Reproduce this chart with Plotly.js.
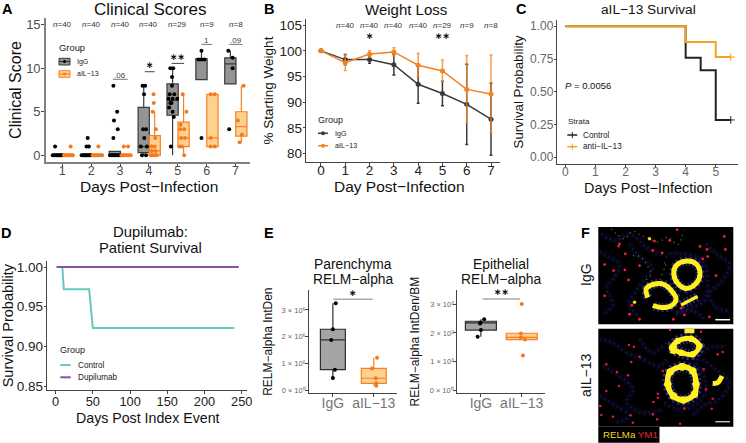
<!DOCTYPE html>
<html><head><meta charset="utf-8">
<script src="https://cdn.plot.ly/plotly-3.0.0.min.js"></script>
<style>html,body{margin:0;padding:0;background:#fff}#c{width:746px;height:443px}</style></head>
<body><div id="c"></div>
<script>
// Panel A: clinical scores
const days = [1,2,3,4,5,6,7];
const nA = ["40","40","40","40","29","9","8"];
const boxIgG_q1 = [0,0,0,0.3,4.6,8.7,8.2];
const boxIgG_med = [0,0,0,1,6.3,11,10.5];
const boxIgG_q3 = [0,0,0.45,5.5,8.2,11.1,11.2];
const boxIgG_lo = [0,0,0,0,0,8.7,8.2];
const boxIgG_hi = [0,0,0,8,10,12,12];
const boxAil_q1 = [0,0,0,0,1,1,2.2];
const boxAil_med = [0,0,0,0.5,2,2,3.3];
const boxAil_q3 = [0,0,0,2.25,3.8,7,5];
const boxAil_lo = [0,0,0,0,0,1,1.5];
const boxAil_hi = [0,0,0,5,7,7,8];
const ptsIgG_x = [0.75,0.67,0.72,0.76,0.8,0.84,0.88,0.92,0.96,1.0, 1.88,1.84,1.92,1.67,1.72,1.76,1.8,1.84,1.88,1.92,1.96,2.0, 2.77,2.9,2.79,2.92,2.77,2.65,2.7,2.75,2.8,2.85,2.9,2.95,3.0, 3.78,3.87,3.83,3.8,3.9,3.84,3.72,3.93,3.76,3.9, 4.74,4.84,4.8,4.8,4.72,4.88,4.68,4.82,4.98,4.74,4.78,4.7,4.82,4.86,4.76, 5.82,5.72,5.82,5.92,5.82, 6.75,6.9,6.9,6.78];
const ptsIgG_y = [1,0,0,0,0,0,0,0,0,0, 2,1,1,0,0,0,0,0,0,0,0,0, 8,5,4,3,2,0,0,0,0,0,0,0,0, 8,8,7,3,3,2,1,1,0,0, 10,10,9,8,7,7,6.5,6.5,6.5,6,6,5.5,5,4.4,1, 12,11,11,11,2, 12,11.2,10,3];
const ptsAil_x = [1.29,1.06,1.1,1.14,1.18,1.22,1.26,1.3,1.34,1.37, 2.25,2.05,2.1,2.15,2.2,2.25,2.3,2.35,2.38, 3.13,3.28,3.05,3.1,3.15,3.2,3.25,3.3,3.37, 4.16,4.17,4.13,4.24,4.22,4.09,4.2,4.07,4.14,4.21,4.27,4.1,4.23, 5.17,5.3,5.1,5.08,5.22,5.12,5.25,5.06,5.14,5.22, 6.14,6.28,6.14,6.14,6.28, 7.28,7.08,7.22,7.14];
const ptsAil_y = [1,0,0,0,0,0,0,0,0,0, 1,0,0,0,0,0,0,0,0, 1,1,0,0,0,0,0,0,0, 7,6,5,3,2,1,1,0,0,0,0,0.5,0.5, 7,5,3.5,3,3,2,2,1,1,0, 7,7,2,1,1, 8,4,2.4,1.5];
const sigA_text = [".06","\u2217","\u2217\u2217","1",".09"];
const sigA_x0 = [2.75,3.86,4.79,5.82,6.78];
const sigA_x1 = [3.27,4.2,5.22,6.19,7.24];
const sigA_y = [8.73,9.6,10.56,12.74,12.74];

// Panel B: weight loss
const dayB = [0,1,2,3,4,5,6,7];
const weightIgG = [100,98.3,98.3,97.3,93.5,91.7,89.6,86.7];
const weightAil = [100,97.7,99.4,99.8,97.2,96.1,92.5,91.6];
const errIgG = [0,1,0.7,2,3.7,2.4,7.8,7];
const errAil = [0,1.5,0.6,0.8,2.3,2.1,6.6,7.6];
const nB = ["40","40","40","40","29","9","8"];

// Panel C: survival
const survCtlX = [0,4,4.5,5,5.5];
const survCtlY = [1,0.76,0.665,0.285,0.285];
const survAntiX = [0,4,5,5.5];
const survAntiY = [1,0.88,0.765,0.765];

// Panel D: patient survival
const dCtlX = [1,9,11,45,50,240];
const dCtlY = [1,1,0.972,0.972,0.923,0.923];
const dDupX = [1.5,246];
const dDupY = [1,1];

// Panel E
const eCats = ["IgG","aIL\u221213"];
const e1Ticks = ["0 \u00d7 10\u2070","1 \u00d7 10\u2076","2 \u00d7 10\u2076","3 \u00d7 10\u2076"];
const e2Ticks = ["0 \u00d7 10\u2070","1 \u00d7 10\u00b3","2 \u00d7 10\u00b3","3 \u00d7 10\u00b3"];
const e1_q1 = [0.77,0.26], e1_med = [1.88,0.45], e1_q3 = [2.28,0.82], e1_lo = [0.46,0.17], e1_hi = [3.25,1.22];
const e1IgG_x = [1.07,1.0,0.96,1.05,1.0], e1IgG_y = [3.25,2.28,1.88,0.77,0.46];
const e1Ail_x = [2.08,1.96,2.05,2.06,2.06], e1Ail_y = [1.22,0.81,0.45,0.26,0.17];
const e2_q1 = [2.10,1.77], e2_med = [2.35,1.85], e2_q3 = [2.41,1.99], e2_lo = [1.87,1.77], e2_hi = [2.48,1.99];
const e2IgG_x = [1.08,0.99,0.98,1.0,0.92], e2IgG_y = [2.48,2.37,2.33,2.10,1.87];
const e2Ail_x = [2.0,1.98,1.98,2.08,2.03], e2Ail_y = [3.01,1.98,1.84,1.77,1.21];

// Panel F: microscopy, positions
const fRingAx = [268,300,312,300,270,245,233,240,268];
const fRingAy = [112,120,150,178,193,178,150,125,112];
const fArcBx = [155,150,175,205,230,240,225,195,170];
const fArcBy = [220,195,180,182,205,225,245,250,244];
const fArcCx = [255,275,305];
const fArcCy = [243,232,217];
const fDimYx = [45,60,85,110,135,160,185,215,245,262];
const fDimYy = [15,30,45,22,35,45,55,40,62,20];
const fDimY2x = [110,135,150,165,150,170,210,195];
const fDimY2y = [95,100,120,150,170,195,115,125];
const fBrightx = [160,115], fBrighty = [45,234];
const fRedTx = [67,87,25,86,97,25,100,107,170,198,221,243,335,320,333,385,388,312,255,265,232,340,360,52,130,175,130,70];
const fRedTy = [67,90,122,138,168,215,270,243,80,87,50,18,98,105,77,38,77,68,252,272,285,278,155,140,125,52,285,60];
const fBlueT = [[10,85,40,100,70,120,55,160,30,190,50,240,20,270],[100,60,130,100,170,130,150,160,120,200,100,240,130,280],[330,60,360,90,400,120,380,170,340,210,360,250,400,260],[240,270,290,260,330,290],[210,100,225,90,320,110,335,180,325,230,285,250,240,265],[15,30,60,50,100,30,150,70,200,95]];
const fRingBx = [258,290,300,295,262,232,215,222,258];
const fRingBy = [122,135,175,205,222,210,175,138,122];
const fRingCx = [228,245,285,310,290,255,228];
const fRingCy = [65,45,38,60,85,80,65];
const fBlobBx = [350,365,378];
const fBlobBy = [172,170,150];
const fTopBx = [265,295];
const fTopBy = [13,13];
const fBlobDx = [225,240];
const fBlobDy = [68,72];
const fRedBx = [98,113,130,105,30,62,95,200,323,380,365,222,315,172,185,185,350,347,15,50,103,110,170,183,252,68,30,12,330,265];
const fRedBy = [57,62,92,108,115,138,148,135,130,78,85,12,17,228,215,203,218,248,267,272,268,290,265,280,293,180,195,240,190,247];
const fBlueB = [[10,40,50,50,90,80,140,100,190,120,210,100],[20,120,70,150,110,190,90,230,140,260,200,250],[320,100,360,130,400,170,370,220,320,240,290,270],[130,40,170,80,210,50],[10,210,60,240,100,270,60,290],[205,230,250,250,300,235,330,190,320,140,300,110,330,70,390,60]];

const IGG="#3a3a3a", AIL="#f58220", BFILL="rgba(70,70,70,0.58)", AFILL="rgba(255,186,92,0.68)";
const W=746,H=443;
const PX=x=>x/W, PY=y=>1-y/H;
const FONT="Liberation Sans, Arial, sans-serif";
const STARFONT="DejaVu Sans, sans-serif";
const traces=[], shapes=[], annotations=[];

function boxTrace(xa,ya,x,q1,med,q3,lo,hi,fill,col,width,lw){
  return {type:'box',xaxis:xa,yaxis:ya,x:x,q1:q1,median:med,q3:q3,lowerfence:lo,upperfence:hi,
    width:width,whiskerwidth:0,boxpoints:false,fillcolor:fill,line:{color:col,width:lw||1.2},showlegend:false,hoverinfo:'skip'};
}
function pts(xa,ya,x,y,col,size){
  return {type:'scatter',mode:'markers',xaxis:xa,yaxis:ya,x:x,y:y,marker:{color:col,size:size||4},showlegend:false,hoverinfo:'skip',cliponaxis:false};
}
function txt(x,y,text,size,color,o){
  annotations.push(Object.assign({xref:'paper',yref:'paper',x:PX(x),y:PY(y),text:text,showarrow:false,
    font:{family:FONT,size:size,color:color||'#111'},xanchor:'center',yanchor:'middle',borderpad:0},o||{}));
}
function rectP(x0,y0,x1,y1,fill,lcol,lw,layer){
  shapes.push({type:'rect',xref:'paper',yref:'paper',x0:PX(x0),x1:PX(x1),y0:PY(y0),y1:PY(y1),fillcolor:fill,line:{color:lcol||fill,width:lw||0},layer:layer||'above'});
}
function lineP(x0,y0,x1,y1,col,w){
  shapes.push({type:'line',xref:'paper',yref:'paper',x0:PX(x0),x1:PX(x1),y0:PY(y0),y1:PY(y1),line:{color:col,width:w},layer:'above'});
}
const starFont={family:STARFONT,size:9,color:'#111',weight:700};

// A
traces.push(boxTrace('x','y',days.map(d=>d-0.18),boxIgG_q1,boxIgG_med,boxIgG_q3,boxIgG_lo,boxIgG_hi,BFILL,IGG,0.39));
traces.push(boxTrace('x','y',days.map(d=>d+0.2),boxAil_q1,boxAil_med,boxAil_q3,boxAil_lo,boxAil_hi,AFILL,AIL,0.39));
traces.push(pts('x','y',ptsIgG_x,ptsIgG_y,'#000',4));
traces.push(pts('x','y',ptsAil_x,ptsAil_y,'#f47a20',4));
days.forEach((d,i)=>annotations.push({xref:'x',yref:'y',x:d,y:15,text:'<i>n</i>='+nA[i],showarrow:false,font:{family:FONT,size:8,color:'#333'}}));
sigA_text.forEach((t,i)=>{
  const star=t.includes('\u2217');
  shapes.push({type:'line',xref:'x',yref:'y',x0:sigA_x0[i],x1:sigA_x1[i],y0:sigA_y[i],y1:sigA_y[i],line:{color:star?'#444':'#777',width:1}});
  annotations.push({xref:'x',yref:'y',x:(sigA_x0[i]+sigA_x1[i])/2,y:sigA_y[i]+(star?0.75:0.42),text:t,showarrow:false,
    font:star?starFont:{family:FONT,size:8,color:'#444'}});
});
txt(58.3,48,'Group',9.4,'#222',{xanchor:'left'});
rectP(59,58.3,70,65,BFILL,IGG,1); lineP(59,61.5,70,61.5,IGG,1.2);
rectP(59,70.7,70,77.3,AFILL,AIL,1); lineP(59,74,70,74,AIL,1.2);
txt(75.7,62,'IgG',7,'#222',{xanchor:'left'});
txt(75.7,74,'aIL\u221213',7,'#222',{xanchor:'left'});
shapes.push({type:'circle',xref:'paper',yref:'paper',x0:PX(63),x1:PX(66),y0:PY(60),y1:PY(63),fillcolor:'#000',line:{width:0}});
shapes.push({type:'circle',xref:'paper',yref:'paper',x0:PX(63),x1:PX(66),y0:PY(72.5),y1:PY(75.5),fillcolor:'#f47a20',line:{width:0}});

// B
traces.push({type:'scatter',mode:'lines+markers',xaxis:'x2',yaxis:'y2',x:dayB,y:weightIgG,line:{color:IGG,width:1.5},marker:{color:IGG,size:5},
  error_y:{type:'data',array:errIgG,color:IGG,thickness:1.5,width:1.5},showlegend:false,hoverinfo:'skip'});
traces.push({type:'scatter',mode:'lines+markers',xaxis:'x2',yaxis:'y2',x:dayB,y:weightAil,line:{color:AIL,width:1.5},marker:{color:AIL,size:5},
  error_y:{type:'data',array:errAil,color:'rgba(245,130,32,0.8)',thickness:1.5,width:1.5},showlegend:false,hoverinfo:'skip'});
days.forEach((d,i)=>annotations.push({xref:'x2',yref:'y2',x:d,y:105,text:'<i>n</i>='+nB[i],showarrow:false,font:{family:FONT,size:8,color:'#333'}}));
annotations.push({xref:'x2',yref:'y2',x:2,y:102.9,text:'\u2217',showarrow:false,font:starFont});
annotations.push({xref:'x2',yref:'y2',x:5,y:102.9,text:'\u2217\u2217',showarrow:false,font:starFont});
txt(316.7,120,'Group',9,'#222',{xanchor:'left'});
lineP(318,133.3,328,133.3,IGG,1.5); lineP(318,145.7,328,145.7,AIL,1.5);
shapes.push({type:'circle',xref:'paper',yref:'paper',x0:PX(321),x1:PX(325),y0:PY(131.3),y1:PY(135.3),fillcolor:IGG,line:{width:0}});
shapes.push({type:'circle',xref:'paper',yref:'paper',x0:PX(321),x1:PX(325),y0:PY(143.7),y1:PY(147.7),fillcolor:AIL,line:{width:0}});
txt(334.3,133.3,'IgG',7.2,'#222',{xanchor:'left'});
txt(334.3,145.7,'aIL\u221213',7.2,'#222',{xanchor:'left'});

// C
traces.push({type:'scatter',mode:'lines',xaxis:'x3',yaxis:'y3',x:survCtlX,y:survCtlY,line:{color:'#222',width:2,shape:'hv'},showlegend:false,hoverinfo:'skip'});
traces.push({type:'scatter',mode:'lines',xaxis:'x3',yaxis:'y3',x:survAntiX,y:survAntiY,line:{color:'#f7a223',width:2,shape:'hv'},showlegend:false,hoverinfo:'skip'});
traces.push({type:'scatter',mode:'markers',xaxis:'x3',yaxis:'y3',x:[survCtlX[4]],y:[survCtlY[4]],marker:{symbol:'cross-thin',size:5.5,line:{color:'#222',width:1}},showlegend:false,hoverinfo:'skip'});
traces.push({type:'scatter',mode:'markers',xaxis:'x3',yaxis:'y3',x:[survAntiX[3]],y:[survAntiY[3]],marker:{symbol:'cross-thin',size:5.5,line:{color:'#f7a223',width:1}},showlegend:false,hoverinfo:'skip'});
txt(564.3,85.7,'<i>P</i> = 0.0056',9.5,'#111',{xanchor:'left'});
txt(566.7,121.7,'Strata',8,'#222',{xanchor:'left'});
lineP(567.3,135,577.3,135,'#222',1.5); lineP(572.3,132,572.3,138,'#222',1);
lineP(567.3,146.7,577.3,146.7,'#f7a223',1.5); lineP(572.3,143.7,572.3,149.7,'#f7a223',1);
txt(582.3,135,'Control',8.2,'#222',{xanchor:'left'});
txt(582.3,146.7,'anti\u2212IL\u221213',8.2,'#222',{xanchor:'left'});

// D
const TEAL="#63cabd", PURP="#8a4fa6";
traces.push({type:'scatter',mode:'lines',xaxis:'x4',yaxis:'y4',x:dCtlX,y:dCtlY,line:{color:TEAL,width:2},showlegend:false,hoverinfo:'skip'});
traces.push({type:'scatter',mode:'lines',xaxis:'x4',yaxis:'y4',x:dDupX,y:dDupY,line:{color:PURP,width:2},showlegend:false,hoverinfo:'skip'});
txt(58.7,350,'Group',9,'#222',{xanchor:'left'});
lineP(60.3,365,70.7,365,TEAL,2); lineP(60.3,377.3,70.7,377.3,PURP,2);
txt(76.7,365,'Control',8.2,'#222',{xanchor:'left'});
txt(76.7,377.3,'Dupilumab',8.2,'#222',{xanchor:'left'});

// E
const EF1="rgba(90,90,90,0.55)", EF2="rgba(255,186,92,0.68)";
function eBoxes(xa,ya,q1,med,q3,lo,hi,w){
  traces.push(boxTrace(xa,ya,[1],[q1[0]],[med[0]],[q3[0]],[lo[0]],[hi[0]],EF1,'#2e2e2e',w,1.2));
  traces.push(boxTrace(xa,ya,[2],[q1[1]],[med[1]],[q3[1]],[lo[1]],[hi[1]],EF2,AIL,w,1.2));
}
eBoxes('x5','y5',e1_q1,e1_med,e1_q3,e1_lo,e1_hi,0.61);
traces.push(pts('x5','y5',e1IgG_x,e1IgG_y,'#000',4));
traces.push(pts('x5','y5',e1Ail_x,e1Ail_y,'#f47a20',4));
eBoxes('x6','y6',e2_q1,e2_med,e2_q3,e2_lo,e2_hi,0.76);
traces.push(pts('x6','y6',e2IgG_x,e2IgG_y,'#000',4));
traces.push(pts('x6','y6',e2Ail_x,e2Ail_y,'#f47a20',4));
lineP(333.3,299.3,372.7,299.3,'#aaa',1.5); txt(352.7,293,'\u2217',9,'#111',{font:starFont});
lineP(482.7,299,520,299,'#aaa',1.5); txt(501,292,'\u2217\u2217',9,'#111',{font:starFont});

// F
rectP(598.3,227,733.3,324.3,'#000','#000',0,'below');
rectP(598.3,328.7,733.3,426.7,'#000','#000',0,'below');
function line(xa,ya,x,y,col,w,dash,shape){
  traces.push({type:'scatter',mode:'lines',xaxis:xa,yaxis:ya,x:x,y:y,line:{color:col,width:w,dash:dash||'solid',shape:shape||'spline',smoothing:1},showlegend:false,hoverinfo:'skip'});
}
function dots(xa,ya,x,y,col,s){
  traces.push({type:'scatter',mode:'markers',xaxis:xa,yaxis:ya,x:x,y:y,marker:{color:col,size:s},showlegend:false,hoverinfo:'skip'});
}
const unpack=a=>[a.filter((v,i)=>i%2==0),a.filter((v,i)=>i%2==1)];
const Y="#fff01e", HAZE="rgba(34,34,110,0.16)";
fBlueT.forEach(a=>{const[p,q]=unpack(a);line('x7','y7',p,q,HAZE,6);line('x7','y7',p,q,'#1f1f66',2,'1px,4px');});
[[fRingAx,fRingAy],[fArcBx,fArcBy],[fArcCx,fArcCy]].forEach(([p,q])=>line('x7','y7',p,q,'#2a2a78',9,'2px,2px'));
line('x7','y7',fDimYx,fDimYy,'#6d6a12',1.5,'1px,4px');
line('x7','y7',fDimY2x,fDimY2y,'#6d6a12',1.5,'1px,4px');
line('x7','y7',fRingAx,fRingAy,Y,5);
line('x7','y7',fArcBx,fArcBy,Y,5);
line('x7','y7',fArcCx,fArcCy,Y,3.2);
dots('x7','y7',fBrightx,fBrighty,'#f5d020',3.5);
dots('x7','y7',fRedTx,fRedTy,'#f0203a',2.8);
fBlueB.forEach(a=>{const[p,q]=unpack(a);line('x8','y8',p,q,HAZE,6);line('x8','y8',p,q,'#1f1f66',2,'1px,4px');});
[[fRingBx,fRingBy],[fRingCx,fRingCy]].forEach(([p,q])=>line('x8','y8',p,q,'#2a2a78',11,'2px,2px'));
line('x8','y8',fRingBx,fRingBy,Y,5.5);
line('x8','y8',fRingCx,fRingCy,Y,5);
dots('x8','y8',fRingBx,fRingBy,Y,7.5);
dots('x8','y8',fRingCx,fRingCy,Y,6.5);
line('x8','y8',fBlobBx,fBlobBy,Y,5);
line('x8','y8',fTopBx,fTopBy,Y,6);
line('x8','y8',fBlobDx,fBlobDy,Y,9);
dots('x8','y8',fRedBx,fRedBy,'#d81c3c',2.6);
lineP(715.3,319.7,730,319.7,'#fff',1.5);
lineP(715.3,421.7,730,421.7,'#bbb',1.5);
rectP(598.3,426.7,659.5,442.7,'#000');
txt(601.5,434.5,'<span style="color:#f0dc1e">RELMa</span> <span style="color:#e8202a">YM1</span>',9.7,'#fff',{xanchor:'left'});
txt(586,275,'IgG',14,'#111',{textangle:-90});
txt(586,376,'aIL\u221213',14,'#111',{textangle:-90});

// titles and letters
txt(149.5,10,'Clinical Scores',17,'#111');
txt(406.3,9,'Weight Loss',15,'#111');
txt(648.3,9,'aIL\u221213 Survival',13.7,'#111');
txt(150,232,'Dupilumab:',14.8,'#111');
txt(150,248,'Patient Survival',14.8,'#111');
txt(352.7,264.3,'Parenchyma',13.8,'#111');
txt(352.7,279.3,'RELM\u2212alpha',13.8,'#111');
txt(501.3,264.3,'Epithelial',13.8,'#111');
txt(501.3,279.3,'RELM\u2212alpha',13.8,'#111');
[['A',1,9.2],['B',262.5,9.2],['C',515,9.2],['D',0,233],['E',263,233],['F',580,233]].forEach(([t,x,y])=>
  txt(x,y,'<b>'+t+'</b>',14.5,'#000',{xanchor:'left'}));
// x axis titles, set just clear of the tick labels
txt(148.8,186.5,'Days Post\u2212Infection',15.5,'#111');
txt(399.6,187,'Day Post\u2212Infection',15.5,'#111');
txt(648.2,187.5,'Days Post\u2212Infection',14.4,'#111');
txt(148,417.5,'Days Post Index Event',14.2,'#111');

function ax(x0,x1,y0,y1){return {x:[PX(x0),PX(x1)],y:[PY(y1),PY(y0)]};}
function mkX(dom,range,vals,text,o){
  return Object.assign({domain:dom,range:range,tickvals:vals,ticktext:text,showgrid:false,zeroline:false,showline:true,ticks:'outside',ticklen:2.5,tickcolor:'#444',
    linecolor:'#444',linewidth:1,tickfont:{family:FONT,size:13,color:'#4d4d4d'},automargin:false},o||{});
}
const title=(t,size,standoff)=>({text:t,font:{family:FONT,size:size,color:'#111'},standoff:standoff});

const a=ax(45.7,250,18,162), b=ax(306.3,500,19,162), c=ax(557.3,738.3,20,163.7), d=ax(47.3,247.3,261,390.3), e1=ax(308.7,396.7,290,393.3), e2=ax(456.7,545,290,393.3), f1=ax(598.3,733.3,227,324.3), f2=ax(598.3,733.3,328.7,426.7);
const dark={family:FONT,size:13.5,color:'#222'};
const YS=-2;
const layout={width:W,height:H,margin:{l:0,r:0,t:0,b:0,pad:0},paper_bgcolor:'#fff',plot_bgcolor:'rgba(0,0,0,0)',showlegend:false,boxmode:'overlay',
  font:{family:FONT},shapes:shapes,annotations:annotations,
  xaxis:mkX(a.x,[0.426,7.5],days,days.map(String),{anchor:'y',ticklabelstandoff:-7,linecolor:'#808080',linewidth:2,tickfont:{family:FONT,size:12.5,color:'#4d4d4d'}}),
  yaxis:mkX(a.y,[-0.77,15.77],[0,5,10,15],['0','5','10','15'],{anchor:'x',ticklabelstandoff:YS,linecolor:'#808080',linewidth:2,title:title('Clinical Score',16,1),tickfont:{family:FONT,size:13,color:'#4d4d4d'}}),
  xaxis2:mkX(b.x,[-0.605,7.37],dayB,dayB.map(String),{anchor:'y2',ticklabelstandoff:-7,tickfont:dark}),
  yaxis2:mkX(b.y,[78.38,106.2],[80,85,90,95,100,105],['80','85','90','95','100','105'],{anchor:'x2',ticklabelstandoff:YS,title:title('% Starting Weight',13.5,2),tickfont:dark}),
  xaxis3:mkX(c.x,[-0.266,5.75],[0,1,2,3,4,5],['0','1','2','3','4','5'],{anchor:'y3',ticklabelstandoff:-6,tickfont:{family:FONT,size:12,color:'#666'}}),
  yaxis3:mkX(c.y,[-0.049,1.048],[0,0.25,0.5,0.75,1],['0.00','0.25','0.50','0.75','1.00'],{anchor:'x3',ticklabelstandoff:YS,title:title('Survival Probability',13.3,3),tickfont:{family:FONT,size:12,color:'#666'}}),
  xaxis4:mkX(d.x,[-11.2,257.5],[0,50,100,150,200,250],['0','50','100','150','200','250'],{anchor:'y4',ticklabelstandoff:-3,tickfont:{family:FONT,size:12.8,color:'#222'}}),
  yaxis4:mkX(d.y,[0.8446,1.0076],[0.85,0.9,0.95,1],['0.85','0.90','0.95','1.00'],{anchor:'x4',ticklabelstandoff:YS,title:title('Survival Probability',14.5,3),tickfont:dark}),
  xaxis5:mkX(e1.x,[0.409,2.56],[1,2],eCats,{anchor:'y5',ticklabelstandoff:-6,tickfont:{family:FONT,size:14,color:'#777'}}),
  yaxis5:mkX(e1.y,[-0.112,3.746],[0,1,2,3],e1Ticks,{anchor:'x5',ticklabelstandoff:YS,title:title('RELM\u2212alpha IntDen',12,6),tickfont:{family:FONT,size:7.5,color:'#666'}}),
  xaxis6:mkX(e2.x,[0.407,2.57],[1,2],eCats,{anchor:'y6',ticklabelstandoff:-6,tickfont:{family:FONT,size:14,color:'#777'}}),
  yaxis6:mkX(e2.y,[-0.105,3.5],[0,1,2,3],e2Ticks,{anchor:'x6',ticklabelstandoff:YS,title:title('RELM\u2212alpha IntDen/BM',12,7),tickfont:{family:FONT,size:7.5,color:'#666'}}),
  xaxis7:{domain:f1.x,range:[6,412],visible:false,anchor:'y7'},
  yaxis7:{domain:f1.y,range:[300,10],visible:false,anchor:'x7'},
  xaxis8:{domain:f2.x,range:[6,412],visible:false,anchor:'y8'},
  yaxis8:{domain:f2.y,range:[302,8],visible:false,anchor:'x8'}
};
Plotly.newPlot('c',traces,layout,{displayModeBar:false,responsive:false});
</script></body></html>
